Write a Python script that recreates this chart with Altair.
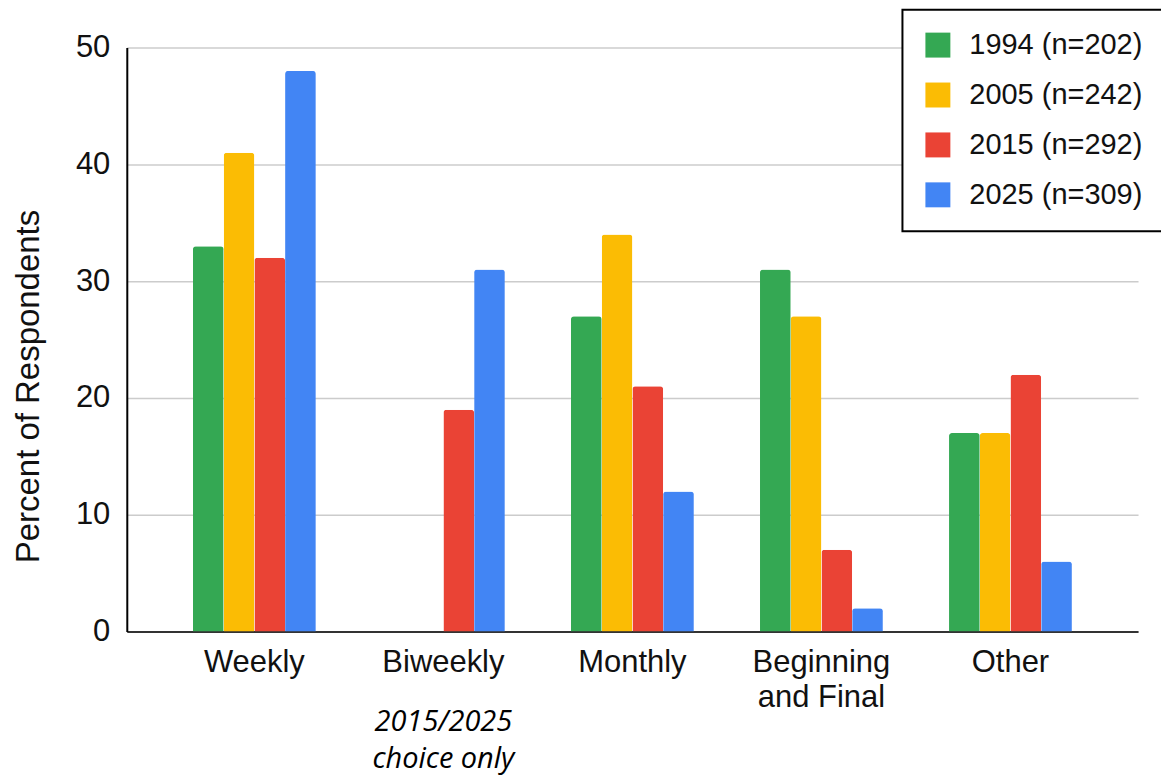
import altair as alt
import pandas as pd

categories = ["Weekly", "Biweekly", "Monthly", "Beginning and Final", "Other"]
series = ["1994 (n=202)", "2005 (n=242)", "2015 (n=292)", "2025 (n=309)"]
v1994 = [33, None, 27, 31, 17]
v2005 = [41, None, 34, 27, 17]
v2015 = [32, 19, 21, 7, 22]
v2025 = [48, 31, 12, 2, 6]
colors = ["#34A853", "#FBBC04", "#EA4335", "#4285F4"]
y_ticks = [0, 10, 20, 30, 40, 50]
note_category = "Biweekly"
note_text = "2015/2025\nchoice only"

rows = []
for s, vals in zip(series, [v1994, v2005, v2015, v2025]):
    for c, v in zip(categories, vals):
        if v is not None:
            rows.append({"category": c, "series": s, "value": v})
df = pd.DataFrame(rows)
note_df = pd.DataFrame({"category": [note_category], "note": [note_text]})

x_scale = alt.Scale(domain=categories, paddingInner=0.35, paddingOuter=0.35)

bars = alt.Chart(df).mark_bar(cornerRadiusTopLeft=3, cornerRadiusTopRight=3).encode(
    x=alt.X("category:N", sort=categories, scale=x_scale,
            axis=alt.Axis(title=None, labelAngle=0, labelFontSize=31, labelPadding=16,
                          labelColor="#111", labelFont="Liberation Sans",
                          ticks=False, domainColor="#333", domainWidth=2,
                          labelLineHeight=35,
                          labelExpr="datum.value == 'Beginning and Final' ? ['Beginning', 'and Final'] : datum.label")),
    xOffset=alt.XOffset("series:N", sort=series,
                        scale=alt.Scale(domain=series, paddingInner=0, paddingOuter=0)),
    y=alt.Y("value:Q", scale=alt.Scale(domain=[0, 50], nice=False),
            axis=alt.Axis(values=y_ticks, title="Percent of Respondents",
                          labelFontSize=31, labelPadding=17, labelColor="#111",
                          labelFont="Liberation Sans", ticks=False,
                          domainColor="#000", domainWidth=2,
                          gridColor="#cccccc", gridWidth=1.5,
                          titleFontSize=33, titleFontWeight="normal", titleColor="#111",
                          titleFont="Liberation Sans", titleAngle=-90,
                          titleX=-98, titleY=339, titleAlign="center",
                          titleBaseline="middle")),
    color=alt.Color("series:N", sort=series,
                    scale=alt.Scale(domain=series, range=colors),
                    legend=alt.Legend(title=None, orient="none", legendX=777, legendY=-38,
                                      symbolType="square", symbolSize=625,
                                      symbolStrokeWidth=0, labelFontSize=29,
                                      labelFont="Liberation Sans", labelColor="#111",
                                      labelOffset=17, rowPadding=20, padding=21,
                                      labelLimit=400, strokeColor="black",
                                      fillColor="white")),
)

note = alt.Chart(note_df).mark_text(
    font="Open Sans", fontStyle="italic", fontSize=29, color="#000",
    lineBreak="\n", lineHeight=37, baseline="alphabetic", align="center"
).encode(
    x=alt.X("category:N", sort=categories, scale=x_scale),
    y=alt.value(685),
    text="note:N",
)

chart = alt.layer(bars, note).properties(
    width=1013, height=585,
    autosize=alt.AutoSizeParams(type="none"),
    padding={"left": 119, "top": 39, "right": 23, "bottom": 143},
).configure_view(stroke=None).configure_legend(strokeWidth=2)

chart.save("out.html", embed_options={"renderer": "svg", "actions": False})
